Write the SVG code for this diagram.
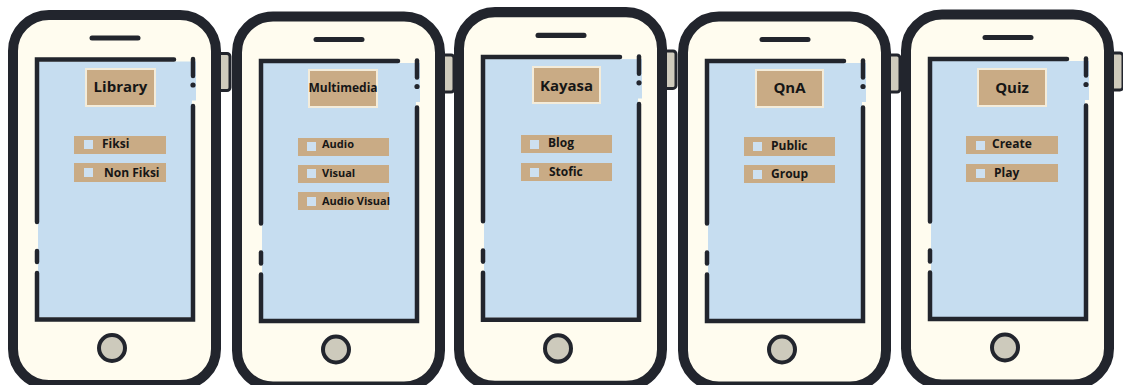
<svg xmlns="http://www.w3.org/2000/svg" xmlns:xlink="http://www.w3.org/1999/xlink" width="1123" height="385" viewBox="0 0 1123 385">
  <style>
    .body { fill: #fffcef; stroke: #22252d; stroke-width: 10; }
    .side { fill: #cfcbbd; stroke: #22252d; stroke-width: 3; }
    .ink { fill: none; stroke: #22252d; stroke-width: 4.5; stroke-linecap: round; stroke-linejoin: miter; }
    .speaker { fill: none; stroke: #22252d; stroke-width: 5; stroke-linecap: round; }
    .screen { fill: #c6ddf0; }
    .home { fill: #cdcabc; stroke: #22252d; stroke-width: 4; }
    .title { fill: #c9ab85; stroke: #f4ecda; stroke-width: 2; }
    .bar { fill: #c9ab85; }
    .check { fill: #cde0f0; }
    text { font-family: "Open Sans", "Liberation Sans", sans-serif; font-weight: bold; fill: #161616; }
    .t-title { font-size: 15px; text-anchor: middle; }
    .t-item { font-size: 12px; }
    .t-small { font-size: 11px; }
  </style>
  <defs>
    <!-- phone handset: side key, body, speaker, screen frame and home key -->
    <g id="phone">
      <rect class="side" x="207" y="53.5" width="15" height="37" rx="3"/>
      <rect class="body" x="5" y="15" width="203" height="370" rx="36"/>
      <line class="speaker" x1="84" y1="38" x2="130" y2="38"/>
      <rect class="screen" x="30" y="61.5" width="154" height="256"/>
      <rect class="screen" x="183" y="61.5" width="5" height="39"/>
      <path class="ink" d="M166,59.5 H29 V222"/>
      <path class="ink" d="M29,251 V262"/>
      <path class="ink" d="M29,273 V319.5 H185 V106"/>
      <path class="ink" d="M185,59 V76"/>
      <circle cx="185" cy="85" r="2.6" fill="#22252d"/>
      <circle class="home" cx="104" cy="348" r="13"/>
    </g>
  </defs>

  <g id="phone-library">
    <use xlink:href="#phone" href="#phone" transform="translate(8,0)"/>
    <rect class="title" x="86" y="69" width="69" height="37"/>
    <text class="t-title" x="120.5" y="92">Library</text>
    <rect class="bar" x="74" y="136" width="92" height="18"/>
    <rect class="check" x="84" y="140" width="9" height="9"/>
    <text class="t-item" x="102" y="148">Fiksi</text>
    <rect class="bar" x="74" y="163" width="92" height="19"/>
    <rect class="check" x="84" y="168" width="9" height="9"/>
    <text class="t-item" x="104" y="177">Non Fiksi</text>
  </g>

  <g id="phone-multimedia">
    <use xlink:href="#phone" href="#phone" transform="translate(232,1.5)"/>
    <rect class="title" x="309" y="70" width="68" height="37"/>
    <text class="t-item" x="343" y="92" text-anchor="middle">Multimedia</text>
    <rect class="bar" x="298" y="138" width="91" height="18"/>
    <rect class="check" x="307" y="142" width="9" height="9"/>
    <text class="t-small" x="322" y="148">Audio</text>
    <rect class="bar" x="298" y="165" width="91" height="18"/>
    <rect class="check" x="307" y="169" width="9" height="9"/>
    <text class="t-small" x="322" y="177">Visual</text>
    <rect class="bar" x="298" y="192" width="91" height="18"/>
    <rect class="check" x="307" y="197" width="9" height="9"/>
    <text class="t-small" x="322" y="205">Audio Visual</text>
  </g>

  <g id="phone-kayasa">
    <use xlink:href="#phone" href="#phone" transform="translate(454,-3) scale(1,1.01)"/>
    <rect class="title" x="533" y="67" width="67" height="36"/>
    <text class="t-title" x="566.5" y="91">Kayasa</text>
    <rect class="bar" x="521" y="135" width="91" height="18"/>
    <rect class="check" x="530" y="140" width="9" height="9"/>
    <text class="t-item" x="548" y="147">Blog</text>
    <rect class="bar" x="521" y="163" width="91" height="18"/>
    <rect class="check" x="530" y="168" width="9" height="9"/>
    <text class="t-item" x="549" y="176">Stofic</text>
  </g>

  <g id="phone-qna">
    <use xlink:href="#phone" href="#phone" transform="translate(678,1.5)"/>
    <rect class="title" x="756" y="70" width="67" height="37"/>
    <text class="t-title" x="789.5" y="93">QnA</text>
    <rect class="bar" x="744" y="137" width="91" height="19"/>
    <rect class="check" x="753" y="142" width="9" height="9"/>
    <text class="t-item" x="771" y="150">Public</text>
    <rect class="bar" x="744" y="165" width="91" height="18"/>
    <rect class="check" x="753" y="170" width="9" height="9"/>
    <text class="t-item" x="771" y="178">Group</text>
  </g>

  <g id="phone-quiz">
    <use xlink:href="#phone" href="#phone" transform="translate(901,-0.5)"/>
    <rect class="title" x="978" y="69" width="68" height="37"/>
    <text class="t-title" x="1012" y="93">Quiz</text>
    <rect class="bar" x="966" y="136" width="92" height="18"/>
    <rect class="check" x="976" y="141" width="9" height="9"/>
    <text class="t-item" x="992" y="148">Create</text>
    <rect class="bar" x="966" y="164" width="92" height="18"/>
    <rect class="check" x="976" y="169" width="9" height="9"/>
    <text class="t-item" x="994" y="177">Play</text>
  </g>

  <g id="connectors"/>
</svg>
